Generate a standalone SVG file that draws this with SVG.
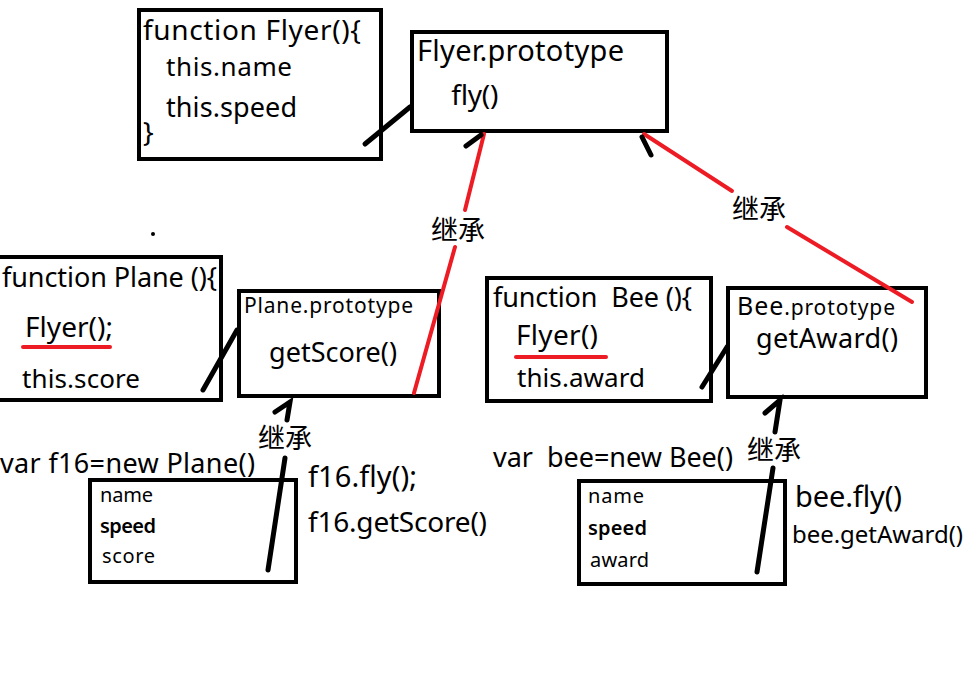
<svg xmlns="http://www.w3.org/2000/svg" width="972" height="682" viewBox="0 0 972 682">
<style>
text{font-family:"Noto Sans","Noto Sans CJK SC",sans-serif;fill:#000}
.box{fill:#fff;stroke:#000;stroke-width:4}
.blk{stroke:#000;stroke-width:5;stroke-linecap:round;fill:none}
.red{stroke:#ed1c24;stroke-width:4;stroke-linecap:round;fill:none}
.lbl{font-size:27px}
.b{font-weight:600}
</style>
<rect width="972" height="682" fill="#fff"/>
<circle cx="153" cy="234" r="2" fill="#000"/>

<g id="flyer-fn">
<rect class="box" x="139" y="10" width="242" height="149"/>
<text x="143" y="40" font-size="28" textLength="218">function Flyer(){</text>
<text x="166" y="76" font-size="26" textLength="126">this.name</text>
<text x="166" y="117" font-size="27" textLength="131">this.speed</text>
<text x="143" y="142" font-size="28">}</text>
</g>

<g id="flyer-proto">
<rect class="box" x="412" y="32" width="255" height="99"/>
<text x="417" y="61" font-size="29" textLength="207">Flyer.prototype</text>
<text x="451" y="105" font-size="28" textLength="47">fly()</text>
</g>

<g id="plane-fn">
<rect class="box" x="-5" y="257" width="226" height="143"/>
<text x="2" y="287" font-size="27" textLength="215">function Plane (){</text>
<text x="25" y="337" font-size="28" textLength="88">Flyer();</text>
<line class="red" x1="23" y1="347" x2="110" y2="347"/>
<text x="22" y="388" font-size="26" textLength="118">this.score</text>
</g>

<g id="plane-proto">
<rect class="box" x="239" y="291" width="200" height="105"/>
<text x="244" y="313" font-size="21" textLength="169">Plane.prototype</text>
<text x="269" y="362" font-size="27" textLength="128">getScore()</text>
</g>

<g id="f16">
<text x="0" y="473" font-size="27" textLength="255">var f16=new Plane()</text>
<rect class="box" x="90" y="480" width="206" height="102"/>
<text x="100" y="502" font-size="20" textLength="53">name</text>
<text class="b" x="100" y="533" font-size="20" textLength="56">speed</text>
<text x="102" y="563" font-size="20" textLength="53">score</text>
<text x="308" y="487" font-size="29" textLength="109">f16.fly();</text>
<text x="308" y="532" font-size="28" textLength="179">f16.getScore()</text>
</g>

<g id="bee-fn">
<rect class="box" x="487" y="278" width="224" height="123"/>
<text x="493" y="307" font-size="27" textLength="199" xml:space="preserve">function  Bee (){</text>
<text x="516" y="345" font-size="28" textLength="82">Flyer()</text>
<line class="red" x1="516" y1="357" x2="606" y2="357"/>
<text x="517" y="387" font-size="26" textLength="128">this.award</text>
</g>

<g id="bee-proto">
<rect class="box" x="728" y="288" width="198" height="109"/>
<text x="737" y="315" textLength="158"><tspan font-size="25">Bee</tspan><tspan font-size="21">.prototype</tspan></text>
<text x="756" y="348" font-size="27" textLength="142">getAward()</text>
</g>

<g id="bee-inst">
<text x="493" y="467" font-size="27" textLength="240" xml:space="preserve">var  bee=new Bee()</text>
<rect class="box" x="579" y="481" width="206" height="103"/>
<text x="588" y="503" font-size="20" textLength="56">name</text>
<text class="b" x="588" y="535" font-size="20" textLength="59">speed</text>
<text x="590" y="567" font-size="20" textLength="59">award</text>
<text x="795" y="507" font-size="29" textLength="107">bee.fly()</text>
<text x="792" y="543" font-size="24" textLength="171">bee.getAward()</text>
</g>

<g id="connectors">
<line class="blk" x1="365" y1="144" x2="410" y2="107"/>
<line class="blk" x1="203" y1="390" x2="237" y2="330"/>
<line class="blk" x1="702" y1="387" x2="727" y2="347"/>
<line class="red" x1="484" y1="134" x2="465" y2="210"/>
<line class="red" x1="455" y1="247" x2="414" y2="393"/>
<line class="blk" x1="466" y1="146" x2="481" y2="135"/>
<line class="red" x1="644" y1="134" x2="732" y2="191"/>
<line class="red" x1="787" y1="227" x2="912" y2="302"/>
<line class="blk" x1="642" y1="137" x2="651" y2="155"/>
<polyline class="blk" points="275,412 290,402 287,420"/>
<line class="blk" x1="285" y1="458" x2="268" y2="570"/>
<polyline class="blk" points="765,413 780,400 775,432"/>
<line class="blk" x1="773" y1="468" x2="757" y2="572"/>
</g>

<g id="labels">
<text class="lbl" x="431" y="240">继承</text>
<text class="lbl" x="732" y="219">继承</text>
<text class="lbl" x="258" y="448">继承</text>
<text class="lbl" x="747" y="460">继承</text>
</g>
</svg>
